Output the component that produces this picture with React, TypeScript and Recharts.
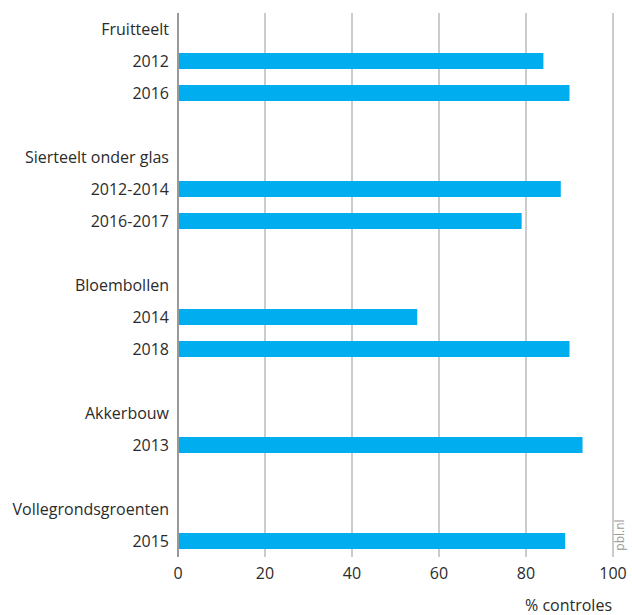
import React from 'react';
import { BarChart, Bar, XAxis, YAxis, CartesianGrid } from 'recharts';

// row labels, top to bottom ('' = spacer row)
const labels = [
  'Fruitteelt', '2012', '2016', '',
  'Sierteelt onder glas', '2012-2014', '2016-2017', '',
  'Bloembollen', '2014', '2018', '',
  'Akkerbouw', '2013', '',
  'Vollegrondsgroenten', '2015',
];

// % controles per row (null = header or spacer)
const values: (number | null)[] = [
  null, 84, 90, null,
  null, 88, 79, null,
  null, 55, 90, null,
  null, 93, null,
  null, 89,
];

const xTicks = [0, 20, 40, 60, 80, 100];

const data = labels.map((label, i) => ({ id: `r${i}`, label, value: values[i] }));

const FONT = '"Open Sans", sans-serif';

const App = () => {
  return (
    <div style={{ position: 'absolute', left: 0, top: 0, width: 632, height: 615, background: '#fff' }}>
      <BarChart
        width={632}
        height={615}
        data={data}
        layout="vertical"
        margin={{ top: 13, right: 19, left: 0, bottom: 0 }}
        barSize={16}
        style={{ fontFamily: FONT }}
      >
        <CartesianGrid horizontal={false} stroke="#cccccc" strokeWidth={2} />
        <XAxis
          type="number"
          domain={[0, 100]}
          ticks={xTicks}
          axisLine={false}
          tickLine={false}
          tickSize={0}
          tickMargin={11}
          height={58}
          tick={{ fontSize: 16, fill: '#2b2b2b' }}
        />
        <YAxis
          type="category"
          dataKey="id"
          width={178}
          tickFormatter={(v: string) => data.find((d) => d.id === v)?.label ?? ''}
          axisLine={{ stroke: '#999999', strokeWidth: 2 }}
          tickLine={false}
          tickSize={0}
          tickMargin={9}
          interval={0}
          tick={{ fontSize: 16, fill: '#2b2b2b' }}
        />
        <Bar dataKey="value" fill="#00aeef" isAnimationActive={false} />
        <text x={612} y={611} textAnchor="end" fontSize={16} fill="#2b2b2b" fontFamily={FONT}>
          % controles
        </text>
        <text
          x={624}
          y={535}
          textAnchor="middle"
          fontSize={12}
          fill="#999999"
          fontFamily={FONT}
          transform="rotate(-90, 624, 535)"
        >
          pbl.nl
        </text>
      </BarChart>
    </div>
  );
};

export default App;
